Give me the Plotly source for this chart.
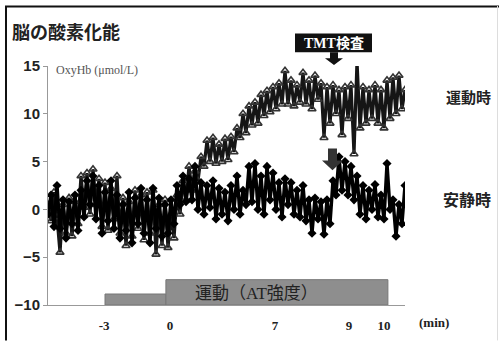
import plotly.graph_objects as go

# Sample index (3 px per sample on screen); time labels sit at their sample positions
N = 120
SAMPLES = list(range(N))
TICK_POS = [18.7, 40.7, 75.7, 100.3, 112.0]
TICK_TEXT = ["-3", "0", "7", "9", "10"]
Y_TICKS = [-10, -5, 0, 5, 10, 15]

# OxyHb during exercise (運動時)
oxy_exercise = [
    0.5, -1.2, 1.8, -0.8, -4.5, 0.5, -2.5, 1.2, -2.8, 0.8,
    -1.5, 3.5, 0.2, 3.8, -0.5, 4.2, 0.5, 3.2, -1.8, 2.8,
    -2.2, 2.2, -1.0, 3.5, -2.5, 1.2, -3.8, 0.8, -2.8, 2.0,
    -2.0, 1.5, -3.2, 1.8, -2.5, 2.0, -4.7, 0.5, -3.8, 1.0,
    -4.0, -0.5, -3.0, 1.5, -0.5, 3.0, 1.0, 4.5, 2.0, 4.0,
    3.0, 5.5, 4.5, 7.2, 5.0, 7.5, 4.8, 6.8, 5.0, 7.4,
    5.2, 7.6, 6.0, 8.5, 7.5, 10.0, 8.0, 10.8, 8.8, 11.2,
    9.0, 12.0, 9.8, 12.4, 10.2, 12.8, 10.5, 13.2, 11.0, 14.5,
    11.0, 13.5, 10.8, 13.0, 11.2, 14.3, 11.0, 13.5, 10.5, 14.0,
    11.5, 13.2, 7.5, 12.8, 9.0, 13.0, 10.0, 12.5, 7.8, 12.8,
    9.5, 13.0, 5.8, 15.5, 8.5, 12.8, 9.0, 12.5, 9.5, 13.0,
    9.0, 12.5, 8.5, 13.5, 9.5, 13.8, 10.0, 14.0, 10.5, 12.5,
]

# OxyHb at rest (安静時)
oxy_rest = [
    -0.5, 1.5, -1.8, 2.5, -2.0, 1.0, -3.0, 0.8, -1.5, 1.5,
    -2.2, 2.0, -0.8, 3.0, 0.5, 3.5, -1.0, 2.5, -2.5, 1.8,
    -1.2, 3.0, -2.0, 1.5, -3.0, 0.5, -2.2, 1.8, -3.5, 1.2,
    -1.5, 2.2, -2.5, 1.0, -3.5, 2.2, -2.0, 1.2, -2.8, 0.5,
    -2.5, 1.0, -1.5, 2.5, 0.5, 3.5, 0.8, 3.2, 1.0, 4.5,
    0.0, 2.8, -0.5, 2.5, 0.2, 3.0, -1.0, 2.2, -0.5, 1.8,
    -1.2, 2.5, 0.0, 3.5, -0.5, 2.0, 0.5, 4.5, 0.8, 4.8,
    0.0, 3.5, -0.5, 4.5, 1.0, 3.8, 0.0, 2.8, -0.8, 3.2,
    0.5, 2.8, -0.5, 2.0, -0.8, 2.5, -1.2, 1.0, -2.5, 1.2,
    -1.0, 0.8, -2.6, 1.0, -1.5, 3.0, 1.5, 5.5, 2.0, 5.0,
    1.5, 4.5, 1.0, 3.5, -0.5, 2.5, -1.0, 2.0, 0.0, 2.6,
    -0.8, 1.5, -1.0, 4.8, 0.0, 1.0, -2.8, 0.5, -1.5, 2.5,
]

# Protocol bars: (start sample, end sample, top value)
PRE_BAR = (19.0, 39.3, -8.85)
EX_BAR = (39.3, 113.3, -7.35)

W, H = 499, 345
ML, MR, MT, MB = 48, 94, 66, 36
PW, PH = W - ML - MR, H - MT - MB


def px(x):
    return (x - ML) / PW


def py(y):
    return (H - MB - y) / PH


fig = go.Figure()
fig.add_trace(go.Scatter(
    x=SAMPLES, y=oxy_exercise, mode="lines+markers",
    line=dict(color="#151515", width=3.2),
    marker=dict(symbol="triangle-up-open", size=7, color="#333",
                line=dict(width=1.6, color="#333")),
    showlegend=False, hoverinfo="skip"))
fig.add_trace(go.Scatter(
    x=SAMPLES, y=oxy_rest, mode="lines+markers",
    line=dict(color="#000", width=3.4),
    marker=dict(symbol="diamond", size=7, color="#000"),
    showlegend=False, hoverinfo="skip"))

shapes = []
for x0, x1, top in (PRE_BAR, EX_BAR):
    shapes.append(dict(type="rect", xref="x", yref="y", x0=x0, x1=x1, y0=-10, y1=top,
                       fillcolor="#8e8e8e", line=dict(color="#777", width=1), layer="below"))

# frame lines
shapes.append(dict(type="line", xref="paper", yref="paper", x0=px(5), x1=px(499),
                   y0=py(5.5), y1=py(5.5), line=dict(color="#111", width=2)))
shapes.append(dict(type="line", xref="paper", yref="paper", x0=px(6), x1=px(6),
                   y0=py(5), y1=py(345), line=dict(color="#111", width=2)))
shapes.append(dict(type="line", xref="paper", yref="paper", x0=px(497.5), x1=px(497.5),
                   y0=py(5), y1=py(345), line=dict(color="#ddd", width=1)))

# TMT label box
shapes.append(dict(type="rect", xref="paper", yref="paper", x0=px(295), x1=px(372),
                   y0=py(52), y1=py(33), fillcolor="#111", line=dict(width=0)))


def arrow(cx, top, shaft_w, shaft_bot, head_w, tip, color):
    pts = [(cx - shaft_w / 2, top), (cx + shaft_w / 2, top), (cx + shaft_w / 2, shaft_bot),
           (cx + head_w / 2, shaft_bot), (cx, tip), (cx - head_w / 2, shaft_bot),
           (cx - shaft_w / 2, shaft_bot)]
    path = "M " + " L ".join(f"{px(a):.5f},{py(b):.5f}" for a, b in pts) + " Z"
    return dict(type="path", xref="paper", yref="paper", path=path,
                fillcolor=color, line=dict(width=0))


shapes.append(arrow(334, 52, 8, 58, 18, 65, "#111"))
shapes.append(arrow(332.5, 150, 9, 162, 21, 172, "#333"))

cjk = "Noto Sans CJK JP"
annotations = [
    dict(text="脳の酸素化能", x=px(10), y=py(30), xanchor="left", yanchor="middle",
         font=dict(family=cjk, size=18, color="#222", weight="bold")),
    dict(text="OxyHb (μmol/L)", x=px(54), y=py(70), xanchor="left", yanchor="middle",
         font=dict(family="Liberation Serif", size=12, color="#555")),
    dict(text="TMT検査", x=px(333.5), y=py(42.5), xanchor="center", yanchor="middle",
         font=dict(family="Liberation Serif, " + cjk, size=14, color="#fff", weight="bold")),
    dict(text="運動時", x=px(468), y=py(97), xanchor="center", yanchor="middle",
         font=dict(family=cjk, size=15, color="#222", weight="bold")),
    dict(text="安静時", x=px(467), y=py(201), xanchor="center", yanchor="middle",
         font=dict(family=cjk, size=16, color="#222", weight="bold")),
    dict(text="運動（AT強度）", x=px(256), y=py(297), xanchor="center", yanchor="middle",
         font=dict(family="Liberation Serif, " + cjk, size=17, color="#222")),
    dict(text="(min)", x=px(434), y=py(327), xanchor="center", yanchor="middle",
         font=dict(family="Liberation Serif", size=13, color="#222", weight="bold")),
]
for a in annotations:
    a.update(xref="paper", yref="paper", showarrow=False)

fig.update_layout(
    width=W, height=H, margin=dict(l=ML, r=MR, t=MT, b=MB),
    paper_bgcolor="#fff", plot_bgcolor="#fff",
    shapes=shapes, annotations=annotations,
    xaxis=dict(range=[0, N - 1], tickvals=TICK_POS, ticktext=TICK_TEXT,
               showgrid=False, zeroline=False, showline=True, linecolor="#999", linewidth=1,
               ticks="", ticklabelstandoff=8,
               tickfont=dict(family="Liberation Serif", size=13, color="#222", weight="bold")),
    yaxis=dict(range=[-10, 15], tickvals=Y_TICKS, ticktext=["−10", "−5", "0", "5", "10", "15"],
               showgrid=False, zeroline=False, showline=True, linecolor="#999", linewidth=1,
               ticks="outside", ticklen=4, tickcolor="#999",
               tickfont=dict(family="Liberation Sans", size=15, color="#222", weight="bold")),
)

fig.write_html("out.html")
